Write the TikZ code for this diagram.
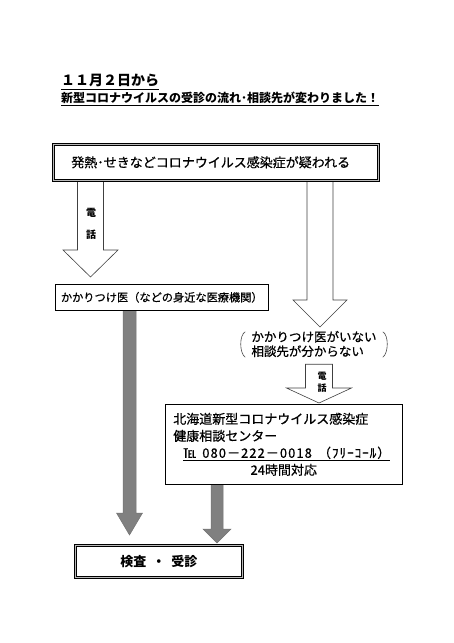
\documentclass[tikz,border=0pt]{standalone}
\usepackage{fontspec}
\setmainfont{Noto Sans CJK JP}[UprightFeatures={FakeBold=0.6}]
\usetikzlibrary{positioning,calc,backgrounds}
\tikzset{
  dbox/.style={draw=black,double=gray!55,double distance=1.2pt,line width=0.6pt,
    fill=white,inner sep=0pt},
  box/.style={draw=black,line width=0.6pt,fill=white,inner sep=0pt},
  hollow/.style={draw=black!75,fill=white,line width=0.6pt},
  solidarrow/.style={draw=black!55,fill=gray,line width=0.5pt},
  brk/.style={draw=black!70,line width=0.6pt},
  lbl/.style={font=\bfseries\fontsize{10}{22}\selectfont,align=center,inner sep=0pt},
}
\newcommand{\fs}[2]{\fontsize{#1}{#2}\selectfont}
% block arrow: style, top (y), tip (x,y), half shaft, half head, head length
\newcommand{\blockarrow}[6]{%
  \draw[#1] let \p1=(#2), \p2=(#3) in
    (\x2-#4pt,\y1) -- (\x2-#4pt,\y2+#6pt) -- (\x2-#5pt,\y2+#6pt) -- (\x2,\y2)
    -- (\x2+#5pt,\y2+#6pt) -- (\x2+#4pt,\y2+#6pt) -- (\x2+#4pt,\y1) -- cycle;}

\begin{document}
\begin{tikzpicture}[x=1pt,y=-1pt]
  \useasboundingbox (0,0) rectangle (454,643);

  % heading
  \node[anchor=south west,inner sep=0pt,font=\bfseries\fs{14}{16}] (title) at (61,89.5)
    {\underline{１１月２日から}};
  \node[below=2.5pt of title.south west,anchor=north west,inner sep=0pt,
    font=\bfseries\fs{12}{14}] (subtitle)
    {\underline{新型コロナウイルスの受診の流れ･相談先が変わりました！}};

  % boxes
  \node[dbox,anchor=north west,text width=289pt,inner xsep=18pt,minimum height=36pt,
    align=left,font=\fs{13}{15}] (fever) at (53,144)
    {発熱･せきなどコロナウイルス感染症が疑われる};
  \node[box,anchor=north west,minimum width=213pt,minimum height=26pt,
    font=\fs{11.2}{13}] (clinic) at (55,284) {かかりつけ医（などの身近な医療機関）};
  \node[inner sep=0pt,align=left,font=\fs{12.5}{14.5}] (nodoc) at (314,344)
    {かかりつけ医がいない\\相談先が分からない};
  \node[box,anchor=north west,text width=221pt,inner xsep=8pt,minimum height=80pt,
    align=left,font=\fs{13}{17}] (consult) at (165,404)
    {北海道新型コロナウイルス感染症\\健康相談センター\\
     \hspace*{10pt}\underline{\makebox[207pt][l]{℡\hspace{6pt}%
       {\addfontfeature{LetterSpace=8}080－222－0018}\hfill
       {\addfontfeature{LetterSpace=8}（ﾌﾘｰｺｰﾙ）}}}\\
     \makebox[\hsize][c]{24時間対応}};
  \node[dbox,anchor=north west,minimum width=167pt,minimum height=32pt,
    font=\bfseries\fs{13}{15}] (exam) at (75,545) {検査\hspace{6pt}・\hspace{6pt}受診};

  % brackets round the note
  \draw[brk] ($(nodoc.north west)+(-6,1)$) .. controls ($(nodoc.west)+(-12,-9)$)
    and ($(nodoc.west)+(-12,9)$) .. ($(nodoc.south west)+(-6,0)$);
  \draw[brk] ($(nodoc.north east)+(6,1)$) .. controls ($(nodoc.east)+(12,-9)$)
    and ($(nodoc.east)+(12,9)$) .. ($(nodoc.south east)+(6,0)$);

  % arrow tips
  \coordinate (tipA) at (90.5,277);
  \coordinate (tipB) at (320,327);
  \coordinate (telTop) at ($(nodoc.south)+(0,7)$);
  \coordinate (tipC) at (319,403);
  \coordinate (tipD) at (129.5,535);
  \coordinate (tipE) at (217,543);

  \begin{scope}[on background layer]
    \blockarrow{hollow}{fever.south}{tipA}{13}{27.5}{27}
    \blockarrow{hollow}{fever.south}{tipB}{13}{27}{27}
    \blockarrow{hollow}{telTop}{tipC}{13.5}{32.5}{15}
    \blockarrow{solidarrow}{clinic.south}{tipD}{6.5}{13}{22}
    \blockarrow{solidarrow}{consult.south}{tipE}{6}{14}{14}
  \end{scope}

  % phone labels
  \node[lbl] (telA) at (91,224) {電\\話};
  \node[lbl,font=\bfseries\fs{9}{12}] (telB) at (322,382) {電\\話};
\end{tikzpicture}
\end{document}
